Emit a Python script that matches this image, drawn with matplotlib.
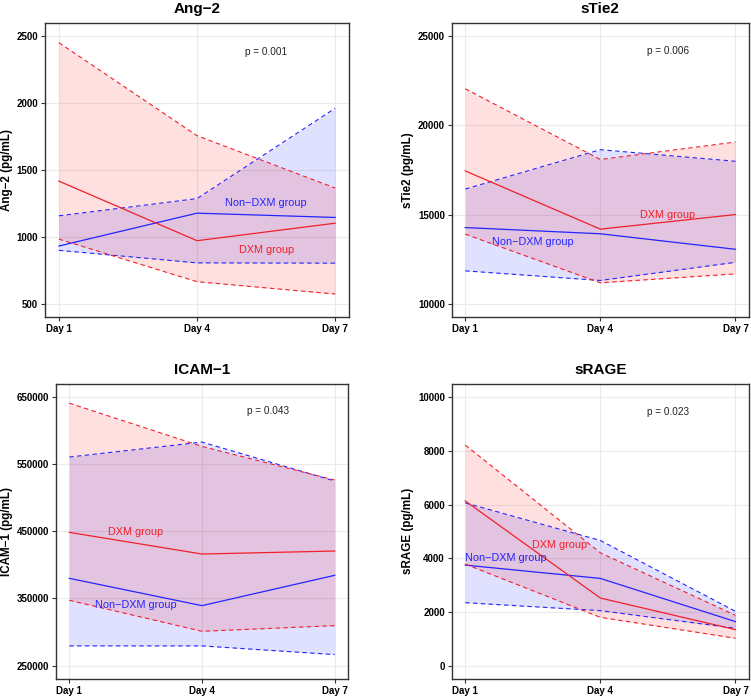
import matplotlib
matplotlib.use("Agg")
import matplotlib.pyplot as plt

plt.rcParams["font.family"] = ["Liberation Sans", "DejaVu Sans"]

days = [1, 2, 3]
day_labels = ["Day 1", "Day 4", "Day 7"]

# Ang-2
ang2_dxm_mean = [1417, 971, 1102]
ang2_dxm_low = [983, 664, 572]
ang2_dxm_high = [2453, 1757, 1365]
ang2_non_mean = [931, 1177, 1145]
ang2_non_low = [899, 805, 803]
ang2_non_high = [1157, 1286, 1962]

# sTie2
stie2_dxm_mean = [17450, 14180, 15000]
stie2_dxm_low = [13900, 11170, 11670]
stie2_dxm_high = [22060, 18090, 19070]
stie2_non_mean = [14270, 13920, 13050]
stie2_non_low = [11840, 11300, 12320]
stie2_non_high = [16430, 18640, 17990]

# ICAM-1
icam_dxm_mean = [448500, 416200, 420700]
icam_dxm_low = [347300, 301100, 309500]
icam_dxm_high = [641000, 576500, 526400]
icam_non_mean = [380000, 339300, 384500]
icam_non_low = [279300, 279300, 266400]
icam_non_high = [560700, 583000, 525000]

# sRAGE
srage_dxm_mean = [6134, 2516, 1339]
srage_dxm_low = [3780, 1798, 1017]
srage_dxm_high = [8216, 4201, 1872]
srage_non_mean = [3743, 3247, 1637]
srage_non_low = [2343, 2046, 1389]
srage_non_high = [6060, 4660, 2021]

RED = "#F0202A"
BLUE = "#2424FF"

panels = [
    dict(title="Ang\u22122", ylabel="Ang\u22122 (pg/mL)",
         dxm=(ang2_dxm_mean, ang2_dxm_low, ang2_dxm_high),
         non=(ang2_non_mean, ang2_non_low, ang2_non_high),
         yticks=[500, 1000, 1500, 2000, 2500], ylim=(400, 2600),
         p="p = 0.001", p_pos=(2.5, 2384),
         dxm_lab=(2.5, 904), non_lab=(2.5, 1251),
         rect=[45 / 751, 1 - 317 / 696, 304 / 751, 294 / 696], label_x=-0.125),
    dict(title="sTie2", ylabel="sTie2 (pg/mL)",
         dxm=(stie2_dxm_mean, stie2_dxm_low, stie2_dxm_high),
         non=(stie2_non_mean, stie2_non_low, stie2_non_high),
         yticks=[10000, 15000, 20000, 25000], ylim=(9250, 25750),
         p="p = 0.006", p_pos=(2.5, 24180),
         dxm_lab=(2.5, 14990), non_lab=(1.5, 13470),
         rect=[451.7 / 751, 1 - 317 / 696, 297.3 / 751, 294 / 696], label_x=-0.147),
    dict(title="ICAM\u22121", ylabel="ICAM\u22121 (pg/mL)",
         dxm=(icam_dxm_mean, icam_dxm_low, icam_dxm_high),
         non=(icam_non_mean, icam_non_low, icam_non_high),
         yticks=[250000, 350000, 450000, 550000, 650000], ylim=(230000, 670000),
         p="p = 0.043", p_pos=(2.5, 628700),
         dxm_lab=(1.5, 449000), non_lab=(1.5, 339800),
         rect=[56 / 751, 1 - 679 / 696, 292 / 751, 295.3 / 696], label_x=-0.167),
    dict(title="sRAGE", ylabel="sRAGE (pg/mL)",
         dxm=(srage_dxm_mean, srage_dxm_low, srage_dxm_high),
         non=(srage_non_mean, srage_non_low, srage_non_high),
         yticks=[0, 2000, 4000, 6000, 8000, 10000], ylim=(-500, 10500),
         p="p = 0.023", p_pos=(2.5, 9455),
         dxm_lab=(1.7, 4486), non_lab=(1.3, 3991),
         rect=[451.7 / 751, 1 - 679 / 696, 297.3 / 751, 295.3 / 696], label_x=-0.147),
]

fig = plt.figure(figsize=(7.51, 6.96), dpi=100)

for pnl in panels:
    ax = fig.add_axes(pnl["rect"])
    non_mean, non_low, non_high = pnl["non"]
    dxm_mean, dxm_low, dxm_high = pnl["dxm"]

    # shaded ranges first, then the lines on top
    ax.fill_between(days, non_low, non_high, color="blue", alpha=0.12, linewidth=0)
    ax.fill_between(days, dxm_low, dxm_high, color="red", alpha=0.12, linewidth=0)

    ax.plot(days, non_mean, color=BLUE, linewidth=0.9)
    ax.plot(days, non_low, color=BLUE, linewidth=0.8, linestyle=(0, (4, 3)))
    ax.plot(days, non_high, color=BLUE, linewidth=0.8, linestyle=(0, (4, 3)))
    ax.plot(days, dxm_mean, color=RED, linewidth=0.9)
    ax.plot(days, dxm_low, color=RED, linewidth=0.8, linestyle=(0, (4, 3)))
    ax.plot(days, dxm_high, color=RED, linewidth=0.8, linestyle=(0, (4, 3)))

    ax.text(*pnl["p_pos"], pnl["p"], ha="center", va="center", fontsize=7.2, color="#222222")
    ax.text(*pnl["dxm_lab"], "DXM group", ha="center", va="center", fontsize=7.8, color=RED)
    ax.text(*pnl["non_lab"], "Non\u2212DXM group", ha="center", va="center", fontsize=7.8, color=BLUE)

    ax.set_xlim(0.9, 3.1)
    ax.set_ylim(*pnl["ylim"])
    ax.set_xticks(days)
    ax.set_xticklabels(day_labels, fontsize=7, fontweight="bold")
    ax.set_yticks(pnl["yticks"])
    ax.set_yticklabels([str(v) for v in pnl["yticks"]], fontsize=7, fontweight="bold")
    ax.set_ylabel(pnl["ylabel"], fontsize=8.4, fontweight="bold", va="center")
    ax.yaxis.set_label_coords(pnl["label_x"], 0.5)
    ax.set_title(pnl["title"], fontsize=11, fontweight="bold", pad=7)

    ax.grid(color="#EBEBEB", linewidth=0.8)
    ax.set_axisbelow(True)
    ax.tick_params(length=3, width=0.8, color="#333333", pad=2, labelcolor="black")
    for s in ax.spines.values():
        s.set_color("#333333")
        s.set_linewidth(1.0)

fig.savefig("out.png", dpi=100)
